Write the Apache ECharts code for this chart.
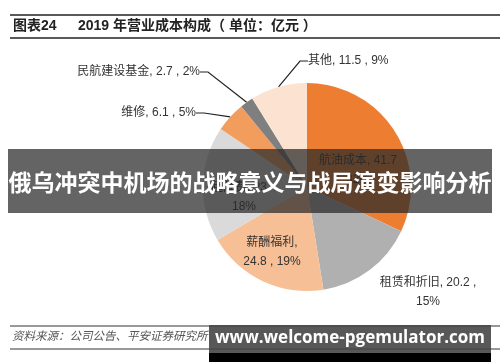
<!DOCTYPE html>
<html><head><meta charset="utf-8">
<script src="https://cdn.jsdelivr.net/npm/echarts@6/dist/echarts.min.js"></script>
<style>html,body{margin:0;padding:0;background:#fff}#c{width:500px;height:362px}</style>
</head><body><div id="c"></div>
<script>
const categories = ['航油成本','租赁和折旧','薪酬福利','起降费','维修','民航建设基金','其他'];
const values = [41.7, 20.2, 24.8, 23.4, 6.1, 2.7, 11.5];
const colors = ['#ED7D31','#B0B0B0','#F7BF96','#DADADA','#F29D5E','#7F7F7F','#FCE2D0'];
const titleNo = '图表24';
const titleText = '2019 年营业成本构成（ 单位：亿元 ）';
const sourceText = '资料来源：公司公告、平安证券研究所';
const bannerText = '俄乌冲突中机场的战略意义与战局演变影响分析';
const siteText = 'www.welcome-pgemulator.com';

const labelPos = [
  {x:358, y:170, align:'center', inside:true},
  {x:428, y:292, align:'center'},
  {x:272, y:252, align:'center', inside:true},
  {x:244, y:197, align:'center', inside:true},
  {x:196, y:113, align:'right'},
  {x:200, y:72, align:'right'},
  {x:308, y:61, align:'left'}
];
const formats = [
  '{b}, {c}\n{d}%', '{b}, {c} ,\n{d}%', '{b},\n{c} , {d}%', '{b}, {c}\n{d}%',
  '{b}, {c} , {d}%', '{b}, {c} , {d}%', '{b}, {c} , {d}%'
];

const chart = echarts.init(document.getElementById('c'));
chart.setOption({
  animation:false,
  graphic:[
    {type:'line', shape:{x1:10,y1:15,x2:500,y2:15}, style:{stroke:'#222',lineWidth:1.5}},
    {type:'line', shape:{x1:10,y1:38,x2:500,y2:38}, style:{stroke:'#222',lineWidth:1.5}},
    {type:'text', left:13, top:19, style:{text:titleNo, font:'bold 14px "Liberation Sans", "Noto Sans CJK SC", sans-serif', fill:'#222'}},
    {type:'text', left:78, top:19, style:{text:titleText, font:'bold 14px "Liberation Sans", "Noto Sans CJK SC", sans-serif', fill:'#222'}},
    {type:'line', shape:{x1:10,y1:326,x2:500,y2:326}, style:{stroke:'#333',lineWidth:1}, z:1},
    {type:'line', shape:{x1:10,y1:349,x2:500,y2:349}, style:{stroke:'#333',lineWidth:1}, z:1},
    {type:'text', left:12, top:330, style:{text:sourceText, font:'italic 11.5px "Noto Sans CJK SC", sans-serif', fill:'#555'}, z:1},
    {type:'rect', shape:{x:8,y:149,width:484,height:64}, style:{fill:'rgba(40,40,40,0.72)'}, z:100},
    {type:'text', x:250, y:182, style:{text:bannerText, font:'bold 23px "Noto Sans CJK SC", sans-serif', fill:'#fff', align:'center', verticalAlign:'middle'}, z:101},
    {type:'rect', shape:{x:209,y:325,width:282,height:28}, style:{fill:'rgba(70,70,70,0.9)'}, z:100},
    {type:'rect', shape:{x:209,y:353,width:282,height:9}, style:{fill:'#000'}, z:100},
    {type:'text', x:350, y:338, style:{text:siteText, font:'bold 17px "Open Sans", "DejaVu Sans", sans-serif', fill:'#fff', align:'center', verticalAlign:'middle'}, z:101}
  ],
  series:[{
    type:'pie',
    center:[307,187],
    radius:[0,104],
    startAngle:90,
    clockwise:true,
    percentPrecision:0,
    avoidLabelOverlap:false,
    data: categories.map((n,i)=>({
      name:n, value:values[i],
      itemStyle:{color:colors[i]},
      label:{
        show:true,
        position: labelPos[i].inside ? 'inside' : 'outside',
        formatter: formats[i],
        align: labelPos[i].align,
        color:'#333',
        fontSize:12,
        lineHeight:19,
        fontFamily:'"Liberation Sans", "Noto Sans CJK SC", sans-serif'
      },
      labelLine:{show: !labelPos[i].inside && i!==1, length:14, length2:8, lineStyle:{color:'#222',width:1.2}}
    })),
    labelLayout: function(p){
      const lp = labelPos[p.dataIndex];
      return {x:lp.x, y:lp.y, align:lp.align, verticalAlign:'middle'};
    }
  }]
});
</script></body></html>
